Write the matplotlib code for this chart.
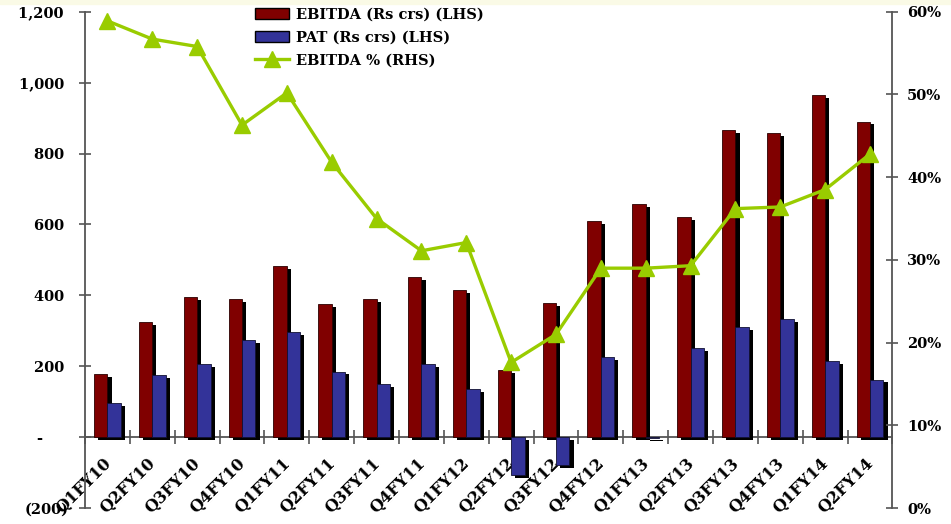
import numpy as np
import matplotlib
matplotlib.use("Agg")
import matplotlib.pyplot as plt
import matplotlib.patheffects as pe
from matplotlib.patches import Patch, Rectangle
from matplotlib.lines import Line2D
from matplotlib.ticker import FuncFormatter
from matplotlib.transforms import ScaledTranslation

# data
quarters = ['Q1FY10', 'Q2FY10', 'Q3FY10', 'Q4FY10', 'Q1FY11', 'Q2FY11', 'Q3FY11',
            'Q4FY11', 'Q1FY12', 'Q2FY12', 'Q3FY12', 'Q4FY12', 'Q1FY13', 'Q2FY13',
            'Q3FY13', 'Q4FY13', 'Q1FY14', 'Q2FY14']
ebitda = [178, 325, 395, 390, 483, 375, 390, 452, 415, 190, 378, 610, 657, 620,
          867, 857, 965, 890]
pat = [95, 175, 205, 273, 297, 185, 150, 205, 135, -107, -79, 225, -3, 252,
       310, 333, 215, 162]
ebitda_pct = [58.9, 56.7, 55.8, 46.3, 50.2, 41.8, 35.0, 31.1, 32.1, 17.6, 21.0,
              29.0, 29.0, 29.3, 36.2, 36.4, 38.5, 42.8]

RED = '#800000'
BLUE = '#333399'
GREEN = '#99cc00'
GREY = '#555555'

plt.rcParams['font.family'] = 'DejaVu Serif'
plt.rcParams['font.weight'] = 'bold'
plt.rcParams['font.size'] = 10.5

fig = plt.figure(figsize=(9.51, 5.24), dpi=100)
fig.add_artist(Rectangle((0, 1 - 4 / 524), 1, 4 / 524, transform=fig.transFigure,
                         color='#fafae6', zorder=0))
ax = fig.add_axes([0.0894, 0.0305, 0.849, 0.947])

x = np.arange(len(quarters))
w = 0.3
shadow = [pe.SimplePatchShadow(offset=(3, -2), shadow_rgbFace='black', alpha=1.0),
          pe.Normal()]
b1 = ax.bar(x - 0.15, ebitda, w, color=RED, edgecolor='#2a0000', linewidth=0.6, zorder=3)
b2 = ax.bar(x + 0.15, pat, w, color=BLUE, edgecolor='#111133', linewidth=0.6, zorder=3)
for b in list(b1) + list(b2):
    b.set_path_effects(shadow)

ax.set_xlim(-0.5, len(quarters) - 0.5)
ax.set_ylim(-200, 1200)
ax.set_yticks(range(-200, 1201, 200))


def lhs_fmt(v, pos):
    # excel accounting style: 1,200 / - / (200)
    if v == 0:
        return '-     '
    if v < 0:
        return '({:,.0f})'.format(-v)
    return '{:,.0f} '.format(v)


ax.yaxis.set_major_formatter(FuncFormatter(lhs_fmt))
ax.tick_params(axis='y', direction='inout', length=9, color=GREY, width=1.2, pad=7)

ax.spines['top'].set_visible(False)
ax.spines['right'].set_visible(False)
ax.spines['bottom'].set_position(('data', 0))
for s in ['left', 'bottom']:
    ax.spines[s].set_color(GREY)
    ax.spines[s].set_linewidth(1.3)

# labels at the centre, tick marks between categories
ax.set_xticks(x)
ax.set_xticklabels(quarters, rotation=45, ha='right', va='top',
                   rotation_mode='anchor', fontsize=11.5)
ax.set_xticks(np.arange(len(quarters) + 1) - 0.5, minor=True)
ax.tick_params(axis='x', which='major', length=0, pad=13)
ax.tick_params(axis='x', which='minor', direction='inout', length=10, color=GREY, width=1.2)
shift = ScaledTranslation(-5 / 100, 0, fig.dpi_scale_trans)
for lbl in ax.get_xticklabels():
    lbl.set_transform(lbl.get_transform() + shift)

ax2 = ax.twinx()
ax2.plot(x, np.array(ebitda_pct) / 100, color=GREEN, lw=2.4, marker='^',
         markersize=11, zorder=5)
ax2.set_ylim(0, 0.6)
ax2.set_yticks(np.arange(0, 0.61, 0.1))
ax2.yaxis.set_major_formatter(FuncFormatter(lambda v, p: '{:.0f}%'.format(v * 100)))
ax2.tick_params(axis='y', direction='inout', length=9, color=GREY, width=1.2, pad=6)
for s in ['top', 'left', 'bottom']:
    ax2.spines[s].set_visible(False)
ax2.spines['right'].set_color(GREY)
ax2.spines['right'].set_linewidth(1.3)

handles = [Patch(facecolor=RED, edgecolor='black', linewidth=1),
           Patch(facecolor=BLUE, edgecolor='black', linewidth=1),
           Line2D([], [], color=GREEN, lw=2.4, marker='^', markersize=11)]
fig.legend(handles, ['EBITDA (Rs crs) (LHS)', 'PAT (Rs crs) (LHS)', 'EBITDA % (RHS)'],
           loc='upper left', bbox_to_anchor=(0.262, 0.997), frameon=False,
           handlelength=2.3, handleheight=0.8, labelspacing=0.62, handletextpad=0.5,
           borderaxespad=0)

fig.savefig('out.png', dpi=100)
